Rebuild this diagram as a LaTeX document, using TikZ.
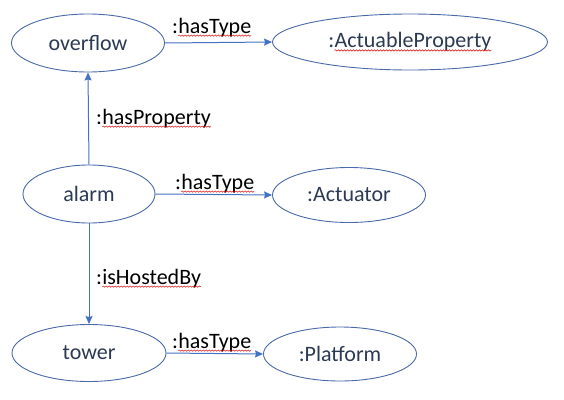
\documentclass[tikz,border=0pt]{standalone}
\usepackage{fontspec}
\setmainfont{Carlito}
\usetikzlibrary{shapes.geometric,arrows.meta,decorations.pathmorphing}
\definecolor{edgeblue}{HTML}{4472C4}
\definecolor{rimblue}{HTML}{4A69A8}
\definecolor{inktext}{HTML}{2B3A52}
% word with a red wavy underline
\newcommand\spellmark[1]{\tikz[baseline=(sw.base)]{%
  \node[rectangle,draw=none,anchor=base,inner sep=0pt,outer sep=0pt,
        minimum width=0pt,minimum height=0pt](sw){#1};%
  \draw[red!85!black,line width=0.5pt,decorate,
        decoration={snake,amplitude=0.7pt,segment length=3pt}]
        ([yshift=-2.6pt]sw.base west)--([yshift=-2.6pt]sw.base east);}}
\tikzset{
  entity/.style={ellipse,draw=rimblue,line width=0.9pt,inner sep=0pt,
                 text=inktext,font=\fontsize{22}{26}\selectfont},
  rel/.style={draw=edgeblue,line width=1pt,-{Stealth[length=8pt,width=7pt,inset=1pt]}},
  rellabel/.style={anchor=base west,inner sep=0pt,text=black,
                   font=\fontsize{22}{26}\selectfont}
}
\begin{document}
\begin{tikzpicture}[x=1pt,y=-1pt]
  \useasboundingbox (0,0) rectangle (564,399);

  % entities
  \node[entity,minimum width=153pt,minimum height=58pt] (overflow) at (88,43) {overflow};
  \node[entity,minimum width=275pt,minimum height=56pt] (actprop) at (410,42) {:\spellmark{ActuableProperty}};
  \node[entity,minimum width=132pt,minimum height=58pt] (alarm) at (89,194) {alarm};
  \node[entity,minimum width=153pt,minimum height=55pt] (actuator) at (349,195) {:Actuator};
  \node[entity,minimum width=154pt,minimum height=57pt] (tower) at (89,353) {tower};
  \node[entity,minimum width=153pt,minimum height=54pt] (platform) at (340,354) {:Platform};

  % relations
  \draw[rel] (overflow.east) -- (actprop.west);
  \draw[rel] (alarm.north) -- (overflow.south);
  \draw[rel] (alarm.east) -- (actuator.west);
  \draw[rel] (alarm.south) -- (tower.north);
  \draw[rel] (tower.east) -- (platform.west);

  % relation labels
  \node[rellabel] (l1) at (172,33) {:\spellmark{hasType}};
  \node[rellabel] (l2) at (96,124) {:\spellmark{hasProperty}};
  \node[rellabel] (l3) at (175,189) {:\spellmark{hasType}};
  \node[rellabel] (l4) at (96,284) {:\spellmark{isHostedBy}};
  \node[rellabel] (l5) at (172,348) {:\spellmark{hasType}};
\end{tikzpicture}
\end{document}
